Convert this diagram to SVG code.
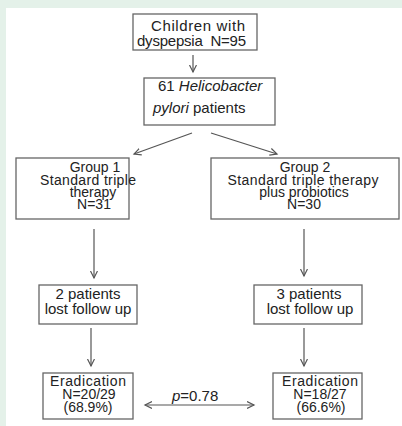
<svg xmlns="http://www.w3.org/2000/svg" width="402" height="426" viewBox="0 0 402 426">
<defs>
<style>
.bg{fill:#e4f1e9}
.box{fill:#fff;stroke:#666;stroke-width:1.3}
.t{font-family:"Liberation Sans",Arial,sans-serif;font-size:15px;fill:#222}
.s{font-size:14px}
.c{text-anchor:middle}
.i{font-style:italic}
.ln{stroke:#555;stroke-width:1.2;fill:none}
</style>
<marker id="ah" markerUnits="userSpaceOnUse" markerWidth="10" markerHeight="10" refX="7" refY="4" orient="auto-start-reverse">
<path d="M0,0.5 L7,4 L0,7.5" fill="none" stroke="#555" stroke-width="1.2"/>
</marker>
</defs>
<rect class="bg" x="0" y="0" width="402" height="426"/>
<rect x="6" y="8" width="396" height="418" fill="#fff"/>
<g id="connectors">
<line class="ln" x1="193" y1="55" x2="193" y2="72" marker-end="url(#ah)"/>
<line class="ln" x1="192" y1="133" x2="134" y2="154" marker-end="url(#ah)"/>
<line class="ln" x1="211" y1="133" x2="277" y2="154" marker-end="url(#ah)"/>
<line class="ln" x1="94" y1="229" x2="94" y2="278" marker-end="url(#ah)"/>
<line class="ln" x1="304" y1="229" x2="304" y2="276" marker-end="url(#ah)"/>
<line class="ln" x1="91" y1="328" x2="91" y2="366" marker-end="url(#ah)"/>
<line class="ln" x1="304" y1="328" x2="304" y2="366" marker-end="url(#ah)"/>
<line class="ln" x1="145" y1="405" x2="254" y2="405" marker-start="url(#ah)" marker-end="url(#ah)"/>
<text class="t" x="172" y="401"><tspan class="i">p</tspan>=0.78</text>
</g>
<g id="n1">
<rect class="box" x="133" y="14" width="124" height="36"/>
<text class="t c" x="198" y="31" textLength="94">Children with</text>
<text class="t" x="137" y="46" textLength="109">dyspepsia&#160; N=95</text>
</g>
<g id="n2">
<rect class="box" x="144" y="78" width="131" height="47"/>
<text class="t" x="158" y="91">61 <tspan class="i">Helicobacter</tspan></text>
<text class="t" x="153" y="113"><tspan class="i">pylori</tspan> patients</text>
</g>
<g id="g1">
<rect class="box" x="16" y="158" width="113" height="61"/>
<text class="t c s" x="95" y="172">Group 1</text>
<text class="t c s" x="88" y="184.5" textLength="96">Standard triple</text>
<text class="t c s" x="93" y="196.5">therapy</text>
<text class="t c s" x="94" y="209">N=31</text>
</g>
<g id="g2">
<rect class="box" x="211" y="158" width="188" height="61"/>
<text class="t c s" x="305" y="172">Group 2</text>
<text class="t c s" x="303" y="184.5" textLength="151">Standard triple therapy</text>
<text class="t c s" x="304" y="196.5">plus probiotics</text>
<text class="t c s" x="304" y="209">N=30</text>
</g>
<g id="l1">
<rect class="box" x="39" y="285" width="98" height="39"/>
<text class="t c" x="88" y="299">2 patients</text>
<text class="t c" x="88" y="314">lost follow up</text>
</g>
<g id="l2">
<rect class="box" x="254" y="285" width="108" height="39"/>
<text class="t c" x="309" y="299">3 patients</text>
<text class="t c" x="310" y="314">lost follow up</text>
</g>
<g id="e1">
<rect class="box" x="43" y="373" width="90" height="46"/>
<text class="t c s" x="88" y="386" textLength="76">Eradication</text>
<text class="t c s" x="89" y="399">N=20/29</text>
<text class="t c s" x="88" y="412">(68.9%)</text>
</g>
<g id="e2">
<rect class="box" x="273" y="373" width="89" height="46"/>
<text class="t c s" x="320" y="386" textLength="76">Eradication</text>
<text class="t c s" x="320" y="399">N=18/27</text>
<text class="t c s" x="321" y="412">(66.6%)</text>
</g>
</svg>
